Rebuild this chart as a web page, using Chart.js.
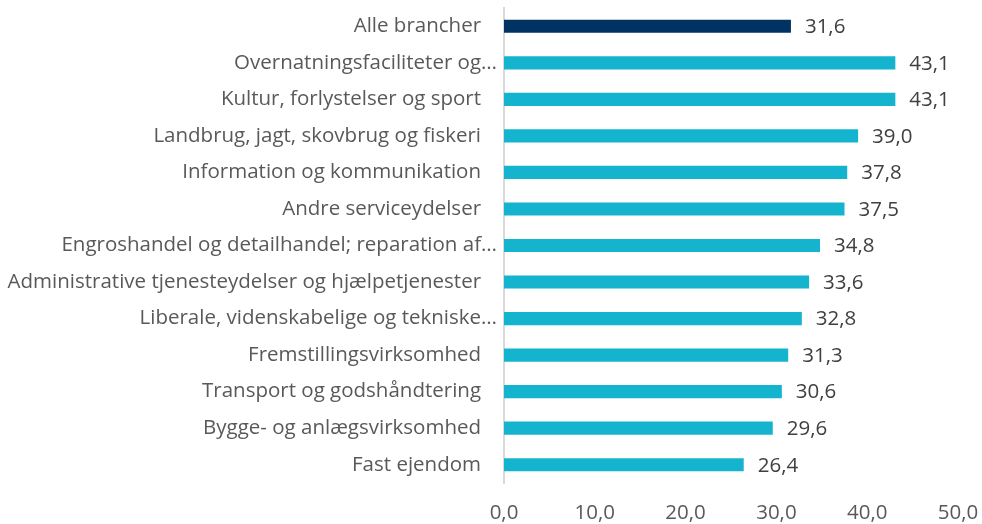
<!DOCTYPE html>
<html>
<head>
<meta charset="utf-8">
<script src="https://cdn.jsdelivr.net/npm/chart.js@4/dist/chart.umd.min.js"></script>
<style>
  html, body { margin: 0; padding: 0; background: #fff; }
  #wrap { width: 982px; height: 524px; position: relative; }
</style>
</head>
<body>
<div id="wrap"><canvas id="chart"></canvas></div>
<script>
// Data
const categories = [
    'Alle brancher',
    'Overnatningsfaciliteter og…',
    'Kultur, forlystelser og sport',
    'Landbrug, jagt, skovbrug og fiskeri',
    'Information og kommunikation',
    'Andre serviceydelser',
    'Engroshandel og detailhandel; reparation af…',
    'Administrative tjenesteydelser og hjælpetjenester',
    'Liberale, videnskabelige og tekniske…',
    'Fremstillingsvirksomhed',
    'Transport og godshåndtering',
    'Bygge- og anlægsvirksomhed',
    'Fast ejendom'
];
const values = [31.6, 43.1, 43.1, 39.0, 37.8, 37.5, 34.8, 33.6, 32.8, 31.3, 30.6, 29.6, 26.4];
const barColors = ['#003361', '#14b4cf', '#14b4cf', '#14b4cf', '#14b4cf', '#14b4cf', '#14b4cf',
    '#14b4cf', '#14b4cf', '#14b4cf', '#14b4cf', '#14b4cf', '#14b4cf'];
const axisMin = 0;
const axisMax = 50;
const axisStep = 10;

const FONT = 'Open Sans';
const FONT_SIZE = 20.5;
const fmt = v => v.toFixed(1).replace('.', ',');

// value labels at the end of each bar
const valueLabels = {
    id: 'valueLabels',
    afterDatasetsDraw: function(chart) {
        const ctx = chart.ctx;
        const meta = chart.getDatasetMeta(0);
        ctx.save();
        ctx.font = FONT_SIZE + 'px "' + FONT + '"';
        ctx.fillStyle = '#404040';
        ctx.textAlign = 'left';
        ctx.textBaseline = 'middle';
        meta.data.forEach((bar, i) => {
            ctx.fillText(fmt(values[i]), bar.x + 14, bar.y + 1);
        });
        ctx.restore();
    }
};

new Chart(document.getElementById('chart').getContext('2d'), {
    type: 'bar',
    data: {
        labels: categories,
        datasets: [{
            data: values,
            backgroundColor: barColors,
            barPercentage: 0.36,
            categoryPercentage: 1.0
        }]
    },
    options: {
        indexAxis: 'y',
        responsive: true,
        maintainAspectRatio: false,
        animation: false,
        layout: {
            padding: { top: 8, right: 24, bottom: 0, left: 0 }
        },
        plugins: {
            legend: { display: false },
            tooltip: { enabled: false }
        },
        scales: {
            x: {
                min: axisMin,
                max: axisMax,
                grid: { display: false, drawTicks: false },
                border: { display: false },
                afterFit: function(scale) {
                    scale.height = 41;
                    scale.paddingLeft = 0;
                    scale.paddingRight = 0;
                },
                ticks: {
                    stepSize: axisStep,
                    padding: 18,
                    color: '#595959',
                    font: { family: FONT, size: FONT_SIZE },
                    callback: v => fmt(v)
                }
            },
            y: {
                grid: { display: false, drawTicks: false },
                border: { display: true, color: '#d9d9d9', width: 2 },
                afterFit: function(scale) {
                    scale.width = 504;
                    scale.paddingTop = 0;
                    scale.paddingBottom = 0;
                },
                ticks: {
                    autoSkip: false,
                    padding: 7,
                    color: '#595959',
                    font: { family: FONT, size: FONT_SIZE },
                    // full labels sit a little further from the axis than cut ones
                    callback: function(v) {
                        const s = this.getLabelForValue(v);
                        return s.endsWith('…') ? s : s + '   ';
                    }
                }
            }
        }
    },
    plugins: [valueLabels]
});
</script>
</body>
</html>
